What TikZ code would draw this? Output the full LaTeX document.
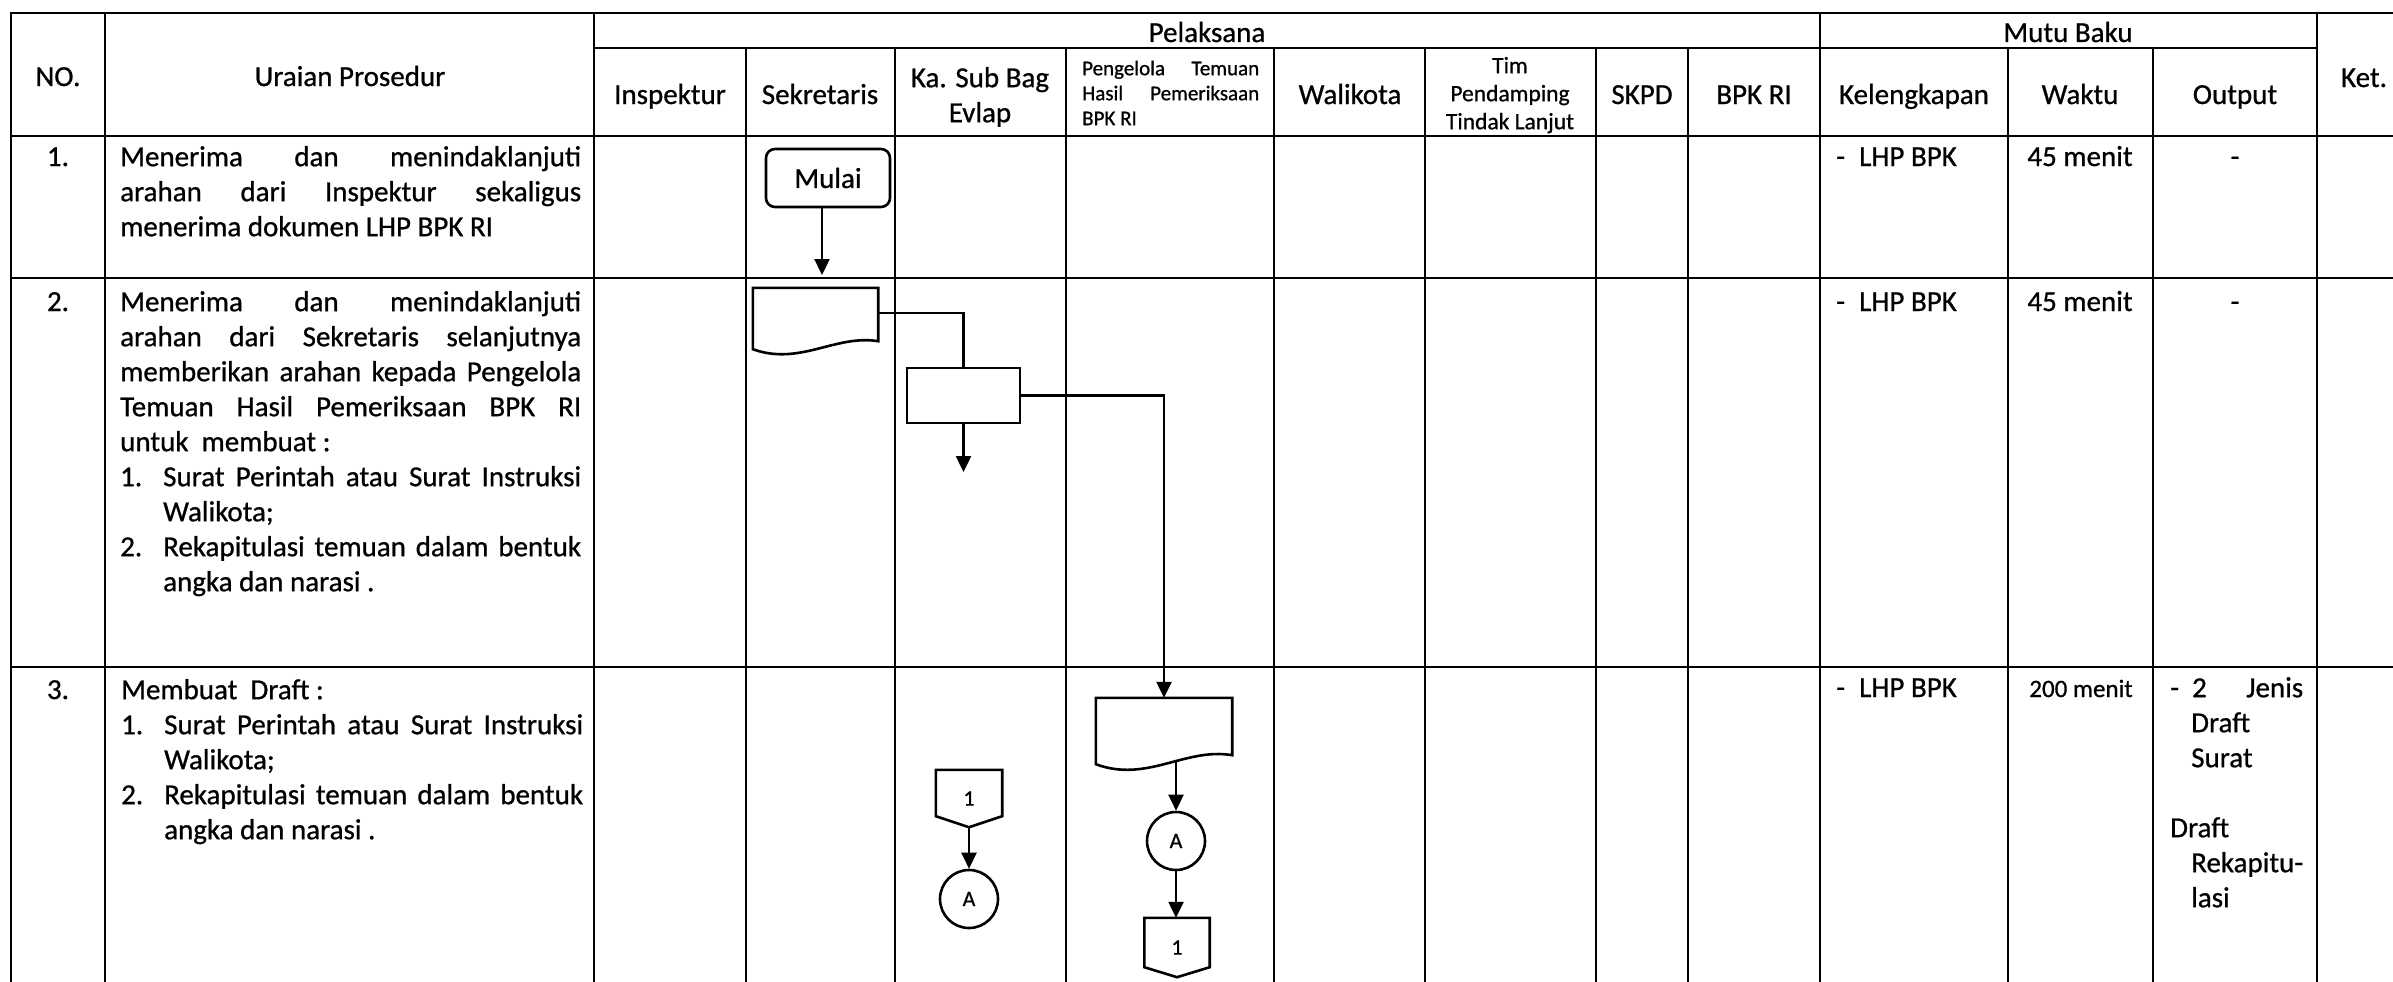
\documentclass[tikz,border=0pt]{standalone}
\usepackage{fontspec}
\setmainfont{Carlito}[FakeBold=0.8]
\usetikzlibrary{arrows.meta,calc}
\newcommand{\jline}[2]{\makebox[#1][s]{#2}}
\newcommand{\topstrut}[1]{\rule{0pt}{#1}}
\begin{document}
\begin{tikzpicture}[x=1pt,y=-1pt,
  grid/.style={line width=2.5pt, line cap=rect},
  shp/.style={line width=2.6pt, line join=miter},
  con/.style={line width=2.4pt},
  arr/.style={con, -{Triangle[length=16pt,width=15pt]}},
  big/.style={font=\fontsize{29}{35}\selectfont},
  hdr/.style={big, inner sep=0pt, anchor=base},
  txt/.style={big, inner sep=0pt, align=left, anchor=north west},
  holder/.style={inner sep=0pt, font=\fontsize{22}{26}\selectfont},
  conn/.style={circle, draw, shp, minimum size=58pt, inner sep=0pt, font=\fontsize{22}{26}\selectfont}
]
\useasboundingbox (0,0) rectangle (2393,982);

% ---------- table grid ----------
\draw[grid] (11,13) -- (2393,13);
\draw[grid] (594,48) -- (2317,48);
\draw[grid] (11,136) -- (2393,136);
\draw[grid] (11,278) -- (2393,278);
\draw[grid] (11,667) -- (2393,667);
\foreach \x in {11,105,594,1820,2317} \draw[grid] (\x,13) -- (\x,982);
\foreach \x in {746,895,1066,1274,1425,1596,1688,2008,2153} \draw[grid] (\x,48) -- (\x,982);

% ---------- headers ----------
\node[hdr] (hNo) at (58,86) {NO.};
\node[hdr] (hUr) at (350,86) {Uraian Prosedur};
\node[hdr] (hPel) at (1207,42) {Pelaksana};
\node[hdr] (hMutu) at (2068,42) {Mutu Baku};
\node[hdr] (hKet) at (2364,87) {Ket.};
\node[hdr] (hIns) at (670,104) {Inspektur};
\node[hdr] (hSek) at (820,104) {Sekretaris};
\node[big, inner sep=0pt, align=center, anchor=north] (hKa) at (980,62) {\topstrut{25pt}Ka. Sub Bag\\ Evlap};
\node[inner sep=0pt, align=left, anchor=north west, font=\fontsize{21}{25}\selectfont] (hPeng) at (1082,57)
  {\topstrut{18pt}\jline{177pt}{Pengelola Temuan}\\ \jline{177pt}{Hasil Pemeriksaan}\\ BPK RI};
\node[hdr] (hWali) at (1350,104) {Walikota};
\node[inner sep=0pt, align=center, anchor=north, font=\fontsize{23.5}{28}\selectfont] (hTim) at (1510,53)
  {\topstrut{20pt}Tim\\ Pendamping\\ Tindak Lanjut};
\node[hdr] (hSkpd) at (1642,104) {SKPD};
\node[hdr] (hBpk) at (1754,104) {BPK RI};
\node[hdr] (hKel) at (1914,104) {Kelengkapan};
\node[hdr] (hWak) at (2080,104) {Waktu};
\node[hdr] (hOut) at (2235,104) {Output};

% ---------- row numbers ----------
\node[hdr] (n1) at (58,166) {1.};
\node[hdr] (n2) at (58,311) {2.};
\node[hdr] (n3) at (58,699) {3.};

% ---------- procedure texts ----------
\node[txt] (u1) at (120,141) {\topstrut{25pt}\jline{461pt}{Menerima dan menindaklanjuti}\\
  \jline{461pt}{arahan dari Inspektur sekaligus}\\
  menerima dokumen LHP BPK RI};
\node[txt] (u2) at (120,286) {\topstrut{25pt}\jline{461pt}{Menerima dan menindaklanjuti}\\
  \jline{461pt}{arahan dari Sekretaris selanjutnya}\\
  \jline{461pt}{memberikan arahan kepada Pengelola}\\
  \jline{461pt}{Temuan Hasil Pemeriksaan BPK RI}\\
  untuk\ \ membuat :\\
  \makebox[43pt][l]{1.}\jline{418pt}{Surat Perintah atau Surat Instruksi}\\
  \hspace*{43pt}Walikota;\\
  \makebox[43pt][l]{2.}\jline{418pt}{Rekapitulasi temuan dalam bentuk}\\
  \hspace*{43pt}angka dan narasi .};
\node[txt] (u3) at (121,674) {\topstrut{25pt}Membuat\ \ Draft :\\
  \makebox[43pt][l]{1.}\jline{419pt}{Surat Perintah atau Surat Instruksi}\\
  \hspace*{43pt}Walikota;\\
  \makebox[43pt][l]{2.}\jline{419pt}{Rekapitulasi temuan dalam bentuk}\\
  \hspace*{43pt}angka dan narasi .};

% ---------- mutu baku ----------
\node[hdr, anchor=base west] (k1) at (1836,166) {\makebox[23pt][l]{-}LHP BPK};
\node[hdr, anchor=base west] (k2) at (1836,311) {\makebox[23pt][l]{-}LHP BPK};
\node[hdr, anchor=base west] (k3) at (1836,697) {\makebox[23pt][l]{-}LHP BPK};
\node[hdr] (w1) at (2080,166) {45 menit};
\node[hdr] (w2) at (2080,311) {45 menit};
\node[hdr, font=\fontsize{25}{30}\selectfont] (w3) at (2081,697) {200 menit};
\node[hdr] (o1t) at (2235,166) {-};
\node[hdr] (o2t) at (2235,311) {-};
\node[txt] (o3t) at (2170,672) {\topstrut{25pt}\makebox[133pt][l]{-\hspace{13pt}2\hfill Jenis}\\
  \hspace*{21pt}Draft\\
  \hspace*{21pt}Surat\\
  \mbox{}\\
  Draft\\
  \hspace*{21pt}Rekapitu-\\
  \hspace*{21pt}lasi};

% ---------- flowchart symbols ----------
\node[draw, shp, rounded corners=9pt, minimum width=124pt, minimum height=58pt, inner sep=0pt, big] (mulai) at (828,178) {Mulai};
\coordinate (e1) at (822,275);

\node[holder, minimum width=125pt, minimum height=65pt] (d1) at (815.5,320.5) {};
\draw[shp] (d1.north west) -- (d1.north east) -- ([yshift=12pt]d1.south east)
  .. controls +(-43,-7) and +(47,17) .. ([yshift=4pt]d1.south west) -- cycle;

\node[draw, shp, minimum width=113pt, minimum height=55pt, inner sep=0pt] (p1) at (963.5,395.5) {};
\coordinate (e2) at (963.5,472);

\node[holder, minimum width=136pt, minimum height=72pt] (d2) at (1164,734) {};
\draw[shp] (d2.north west) -- (d2.north east) -- ([yshift=15pt]d2.south east)
  .. controls +(-47,-8) and +(51,19) .. ([yshift=6pt]d2.south west) -- cycle;

\node[holder, minimum width=66pt, minimum height=57pt] (o1) at (969,798.5) {1};
\draw[shp] (o1.north west) -- (o1.north east) -- ([yshift=11pt]o1.south east) -- (o1.south)
  -- ([yshift=11pt]o1.south west) -- cycle;
\node[conn] (c1) at (969,899) {A};

\node[conn] (c2) at (1176,841) {A};
\node[holder, minimum width=65pt, minimum height=59pt] (o2) at (1177,947.5) {1};
\draw[shp] (o2.north west) -- (o2.north east) -- ([yshift=10pt]o2.south east) -- (o2.south)
  -- ([yshift=10pt]o2.south west) -- cycle;

% ---------- connectors ----------
\draw[arr] (mulai.south -| e1) -- (e1);
\draw[con] ([yshift=7.5pt]d1.east) -| (p1.north);
\draw[arr] (p1.east) -| (d2.north);
\draw[arr] (p1.south) -- (e2);
\draw[arr] ([xshift=12pt,yshift=10pt]d2.south) -- (c2.north);
\draw[arr] (c2.south) -- (c2.south |- o2.north);
\draw[arr] (o1.south) -- (c1.north);
\end{tikzpicture}
\end{document}
